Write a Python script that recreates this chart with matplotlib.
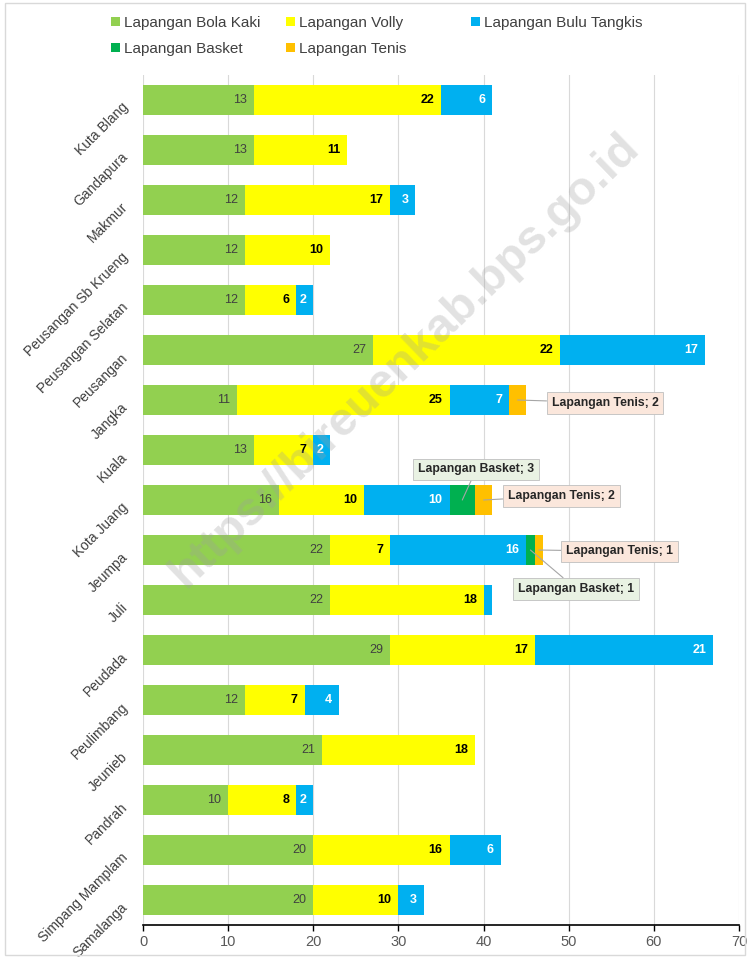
import matplotlib
matplotlib.use("Agg")
import matplotlib.pyplot as plt
from matplotlib.patches import Rectangle, Patch
import numpy as np

plt.rcParams['font.family'] = ['Liberation Sans', 'DejaVu Sans']

kecamatan = ["Kuta Blang", "Gandapura", "Makmur", "Peusangan Sb Krueng", "Peusangan Selatan",
             "Peusangan", "Jangka", "Kuala", "Kota Juang", "Jeumpa", "Juli", "Peudada",
             "Peulimbang", "Jeunieb", "Pandrah", "Simpang Mamplam", "Samalanga"]
bola_kaki    = [13, 13, 12, 12, 12, 27, 11, 13, 16, 22, 22, 29, 12, 21, 10, 20, 20]
volly        = [22, 11, 17, 10, 6, 22, 25, 7, 10, 7, 18, 17, 7, 18, 8, 16, 10]
bulu_tangkis = [6, 0, 3, 0, 2, 17, 7, 2, 10, 16, 1, 21, 4, 0, 2, 6, 3]
basket       = [0, 0, 0, 0, 0, 0, 0, 0, 3, 1, 0, 0, 0, 0, 0, 0, 0]
tenis        = [0, 0, 0, 0, 0, 0, 2, 0, 2, 1, 0, 0, 0, 0, 0, 0, 0]
x_ticks = [0, 10, 20, 30, 40, 50, 60, 70]

series = [
    ("Lapangan Bola Kaki", bola_kaki, "#92D050"),
    ("Lapangan Volly", volly, "#FFFF00"),
    ("Lapangan Bulu Tangkis", bulu_tangkis, "#00B0F0"),
    ("Lapangan Basket", basket, "#00B050"),
    ("Lapangan Tenis", tenis, "#FFC000"),
]
label_style = {
    "Lapangan Bola Kaki": dict(color="#404040", fontweight="normal"),
    "Lapangan Volly": dict(color="black", fontweight="bold"),
    "Lapangan Bulu Tangkis": dict(color="white", fontweight="bold"),
}

W, H = 752, 958
fig = plt.figure(figsize=(W / 100, H / 100), dpi=100)
ax = fig.add_axes([143 / W, 1 - 925 / H, (739 - 143) / W, (925 - 75) / H])

y = np.arange(len(kecamatan))
left = np.zeros(len(kecamatan))
handles = {}
for name, vals, col in series:
    vals = np.array(vals, dtype=float)
    ax.barh(y, vals, left=left, height=0.6, color=col, label=name, zorder=2)
    handles[name] = Patch(facecolor=col, label=name)
    if name in label_style:
        for i, v in enumerate(vals):
            if v >= 2:
                ax.annotate(f"{int(v)}", xy=(left[i] + v, y[i]), xytext=(-5, 0),
                            textcoords="offset points", ha="right", va="center",
                            fontsize=9, zorder=3, **label_style[name])
    left = left + vals

# callouts for the small basket / tennis segments
seg_start = np.array(bola_kaki) + np.array(volly) + np.array(bulu_tangkis)
callouts = []
for i in range(len(kecamatan)):
    if basket[i] > 0:
        callouts.append(("Lapangan Basket", basket[i], seg_start[i] + basket[i] / 2, i, "#E9F2E3"))
    if tenis[i] > 0:
        callouts.append(("Lapangan Tenis", tenis[i], seg_start[i] + basket[i] + tenis[i] / 2, i, "#FBE7DC"))
offsets = {
    ("Lapangan Tenis", 6): (63, -2),
    ("Lapangan Basket", 8): (10, 22),
    ("Lapangan Tenis", 8): (56, 3),
    ("Lapangan Tenis", 9): (58, -1),
    ("Lapangan Basket", 9): (33, -28),
}
for name, v, xc, i, fc in callouts:
    dx, dy = offsets[(name, i)]
    ax.annotate(f"{name}; {v}", xy=(xc, i), xytext=(dx, dy), textcoords="offset points",
                ha="center", va="center", fontsize=8.8, fontweight="bold", color="#262626",
                bbox=dict(boxstyle="square,pad=0.4", fc=fc, ec="#BFBFBF", lw=0.6),
                arrowprops=dict(arrowstyle="-", color="#A6A6A6", lw=0.8, shrinkA=0, shrinkB=0),
                zorder=4)

ax.set_xlim(0, 70)
ax.set_ylim(len(kecamatan) - 0.5, -0.5)
ax.set_xticks(x_ticks)
ax.set_xticklabels([str(t) for t in x_ticks], fontsize=10.5, color="#595959")
ax.set_yticks(y)
ax.set_yticklabels(kecamatan, rotation=45, ha="right", va="top", rotation_mode="anchor",
                   fontsize=10, color="#404040")
ax.tick_params(axis="y", length=0, pad=16)
ax.tick_params(axis="x", length=4, width=1, color="black", pad=3)
ax.grid(axis="x", color="#D9D9D9", lw=0.8, zorder=0)
ax.set_axisbelow(True)
for s in ["top", "right", "left"]:
    ax.spines[s].set_visible(False)
ax.spines["bottom"].set_color("black")
ax.spines["bottom"].set_linewidth(1.2)

# legend in three fixed-width columns
cols = [(115, ["Lapangan Bola Kaki", "Lapangan Basket"]),
        (290, ["Lapangan Volly", "Lapangan Tenis"]),
        (475, ["Lapangan Bulu Tangkis"])]
for xpx, names in cols:
    fig.legend(handles=[handles[n] for n in names], loc="upper left",
               bbox_to_anchor=(xpx / W - 0.009, 1 - 13 / H), frameon=False, fontsize=11,
               labelcolor="#404040", handlelength=0.55, handleheight=0.55, handletextpad=0.3,
               labelspacing=0.75, borderaxespad=0, borderpad=0.2)

# watermark
fig.text(405 / W, 1 - 360 / H, "https://bireuenkab.bps.go.id", rotation=44, fontsize=34,
         fontweight="bold", color="#9E9E9E", alpha=0.3, ha="center", va="center", zorder=10)

fig.patches.append(Rectangle((5 / W, 3 / H), 740 / W, 952 / H, transform=fig.transFigure,
                             fill=False, ec="#D9D9D9", lw=1))

fig.savefig("out.png", dpi=100)
